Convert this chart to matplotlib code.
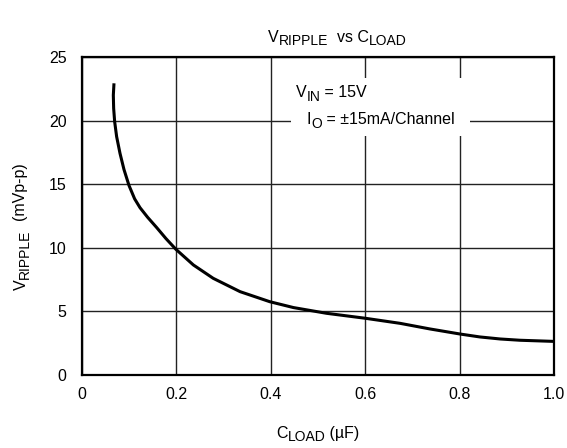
from matplotlib import pyplot as plt
from matplotlib.patches import Rectangle

plt.rcParams['font.family'] = ['Liberation Sans', 'DejaVu Sans']

# curve
c_load = [0.0678, 0.0664, 0.0671, 0.0692, 0.0734, 0.0805, 0.0890, 0.0996,
          0.1115, 0.123, 0.139, 0.158, 0.178, 0.199, 0.236, 0.278, 0.335,
          0.398, 0.448, 0.518, 0.600, 0.674, 0.737, 0.801, 0.843, 0.886,
          0.928, 1.0]
v_ripple = [22.93, 22.0, 20.96, 19.92, 18.74, 17.43, 16.15, 14.9,
            13.85, 13.15, 12.4, 11.6, 10.72, 9.88, 8.65, 7.60, 6.55,
            5.76, 5.30, 4.85, 4.46, 4.06, 3.62, 3.22, 2.99, 2.83,
            2.73, 2.64]

x_ticks = [0, 0.2, 0.4, 0.6, 0.8, 1.0]
x_labels = ["0", "0.2", "0.4", "0.6", "0.8", "1.0"]
y_ticks = [0, 5, 10, 15, 20, 25]

FS = 11.5
SUB = 10


def chain(first, parts, drop=2.5, rotation=0):
	# append text pieces after `first`, lowering the subscript ones
	prev = first
	shift = 0
	for s, is_sub in parts:
		target = -drop if is_sub else 0
		d = target - shift
		size = SUB if is_sub else FS
		if rotation == 90:
			prev = ax.annotate(s, xy=(1, 1), xycoords=prev, xytext=(-d, 0),
			                   textcoords="offset points", rotation=90,
			                   ha="right", va="bottom", fontsize=size, zorder=4)
		else:
			prev = ax.annotate(s, xy=(1, 0), xycoords=prev, xytext=(0, d),
			                   textcoords="offset points",
			                   ha="left", va="bottom", fontsize=size, zorder=4)
		shift = target


fig = plt.figure(figsize=(5.67, 4.48), dpi=100)
ax = fig.add_axes([0.1446, 0.163, 0.8324, 0.7098])
ax.set_xlim(0, 1.0)
ax.set_ylim(0, 25)
ax.set_xticks(x_ticks)
ax.set_xticklabels(x_labels)
ax.set_yticks(y_ticks)
ax.tick_params(length=0, labelsize=FS)
ax.tick_params(axis='x', pad=9)
ax.tick_params(axis='y', pad=11)
ax.grid(True, color="#222222", linewidth=1.0)
for s in ax.spines.values():
	s.set_linewidth(1.6)

ax.plot(c_load, v_ripple, color="black", linewidth=2.2, zorder=3,
        solid_joinstyle="round", solid_capstyle="butt")

# white box behind the conditions text
ax.add_patch(Rectangle((0.443, 18.8), 0.379, 4.55, facecolor="white",
                       edgecolor="none", zorder=2.5))
t = ax.text(0.453, 21.88, "V", fontsize=FS, va="baseline", ha="left", zorder=4)
chain(t, [("IN", True), (" = 15V", False)], drop=3.0)
t = ax.text(0.476, 19.71, "I", fontsize=FS, va="baseline", ha="left", zorder=4)
chain(t, [("O", True), (" = ±15mA/Channel", False)], drop=3.0)

# title
t = fig.text(268 / 567, 1 - 41.7 / 448, "V", fontsize=FS, va="baseline", ha="left")
chain(t, [("RIPPLE", True), ("  vs C", False), ("LOAD", True)])

# x label
t = fig.text(276 / 567, 1 - 438 / 448, "C", fontsize=FS, va="baseline", ha="left")
chain(t, [("LOAD", True), (" (µF)", False)])

# y label
t = fig.text(28.5 / 567, 1 - 290 / 448, "V", fontsize=FS, rotation=90,
             va="bottom", ha="right")
chain(t, [("RIPPLE", True), ("  (mVp-p)", False)], rotation=90)

plt.savefig("out.png", dpi=100)
